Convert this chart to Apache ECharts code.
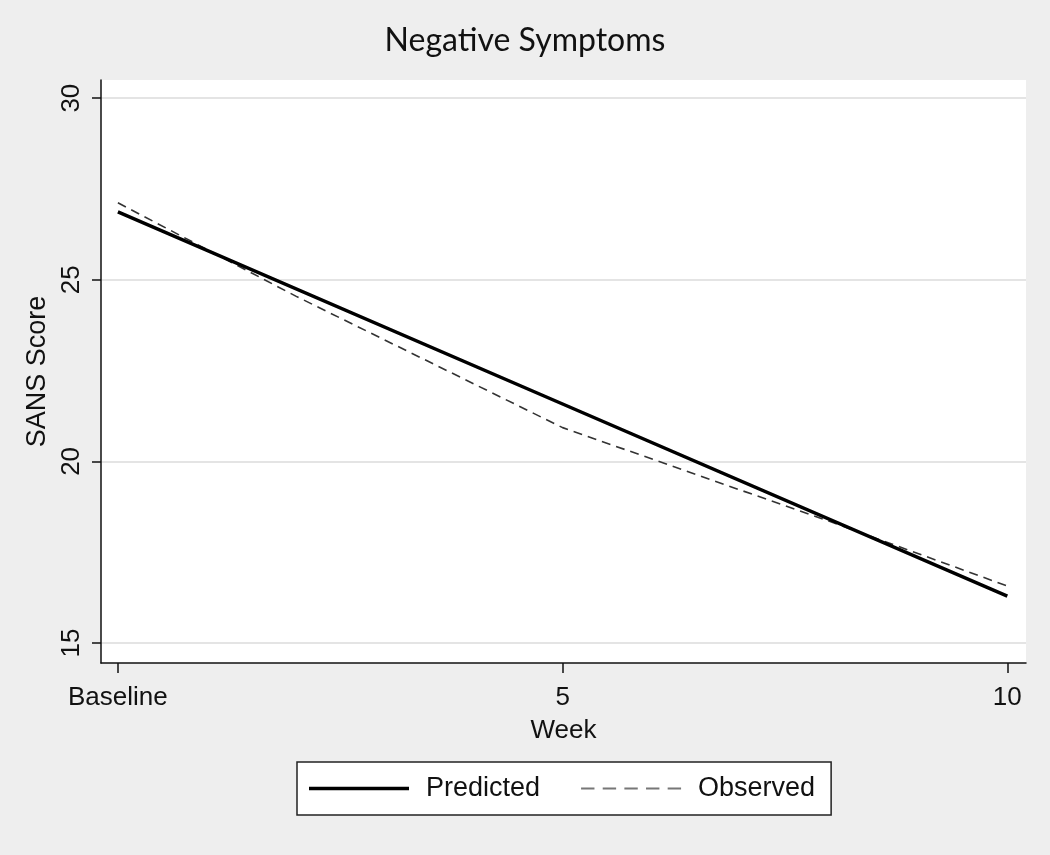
<!DOCTYPE html>
<html>
<head>
<meta charset="utf-8">
<script src="https://cdn.jsdelivr.net/npm/echarts@6/dist/echarts.min.js"></script>
<style>
html,body{margin:0;padding:0;background:#eeeeee;}
#chart{width:1050px;height:855px;}
</style>
</head>
<body>
<div id="chart"></div>
<script>
// Data
const titleText = 'Negative Symptoms';
const xTicks = [0, 5, 10];
const xTickLabels = ['Baseline', '5', '10'];
const yTicks = [15, 20, 25, 30];
const predictedWeeks = [0, 5, 10];
const predictedValues = [26.87, 21.58, 16.29];
const observedWeeks = [0, 2, 5, 8, 10];
const observedValues = [27.12, 24.55, 20.93, 18.35, 16.57];

const pair = (xs, ys) => xs.map((x, i) => [x, ys[i]]);

const chart = echarts.init(document.getElementById('chart'));
const font = '"Liberation Sans", Arial, sans-serif';
chart.setOption({
  backgroundColor: '#eeeeee',
  animation: false,
  title: {
    text: titleText,
    left: 'center',
    top: 20,
    textStyle: {fontFamily: 'Lato, "Open Sans", sans-serif', fontSize: 32, fontWeight: 'normal', color: '#111'}
  },
  grid: {
    left: 101, right: 24, top: 80, bottom: 192,
    show: true, backgroundColor: '#ffffff', borderWidth: 0
  },
  xAxis: {
    type: 'value',
    min: -0.19, max: 10.21,
    name: 'Week',
    nameLocation: 'middle',
    nameGap: 55,
    nameTextStyle: {fontFamily: font, fontSize: 26, color: '#111'},
    axisLine: {show: true, onZero: false, lineStyle: {color: '#111', width: 1.5}},
    axisTick: {show: true, customValues: xTicks, length: 10, lineStyle: {color: '#111', width: 1.5}},
    axisLabel: {
      customValues: xTicks,
      fontFamily: font, fontSize: 26, color: '#111', margin: 22,
      formatter: v => xTickLabels[xTicks.indexOf(v)]
    },
    splitLine: {show: false}
  },
  yAxis: {
    type: 'value',
    min: 14.45, max: 30.5,
    name: 'SANS Score',
    nameLocation: 'middle',
    nameGap: 44,
    nameRotate: 90,
    nameTextStyle: {fontFamily: font, fontSize: 27, color: '#111'},
    axisLine: {show: true, onZero: false, lineStyle: {color: '#111', width: 1.5}},
    axisTick: {show: true, customValues: yTicks, length: 9, lineStyle: {color: '#111', width: 1.5}},
    axisLabel: {
      customValues: yTicks,
      rotate: 90,
      fontFamily: font, fontSize: 26, color: '#111', margin: 16
    },
    splitLine: {show: true, lineStyle: {color: '#e4e4e4', width: 2}}
  },
  legend: {
    bottom: 40,
    left: 297,
    orient: 'horizontal',
    backgroundColor: '#ffffff',
    borderColor: '#222',
    borderWidth: 1.5,
    borderRadius: 0,
    padding: [13, 16, 13, 12],
    itemGap: 41,
    itemWidth: 100,
    itemHeight: 14,
    symbolKeepAspect: true,
    textStyle: {fontFamily: font, fontSize: 27, color: '#111', padding: [0, 0, 0, 12]},
    data: [
      {name: 'Predicted', icon: 'path://M0,0h100v3.5H0z'},
      {name: 'Observed', icon: 'path://M0,0h13v2H0z M21,0h13v2H21z M42,0h13v2H42z M63,0h13v2H63z M84,0h13v2H84z'}
    ]
  },
  series: [
    {
      name: 'Predicted',
      type: 'line',
      data: pair(predictedWeeks, predictedValues),
      symbol: 'none',
      lineStyle: {color: '#000', width: 3.5},
      itemStyle: {color: '#000'},
      z: 3
    },
    {
      name: 'Observed',
      type: 'line',
      data: pair(observedWeeks, observedValues),
      symbol: 'none',
      lineStyle: {color: '#333', width: 1.6, type: [9, 6]},
      itemStyle: {color: '#777'},
      z: 2
    }
  ]
});
</script>
</body>
</html>
